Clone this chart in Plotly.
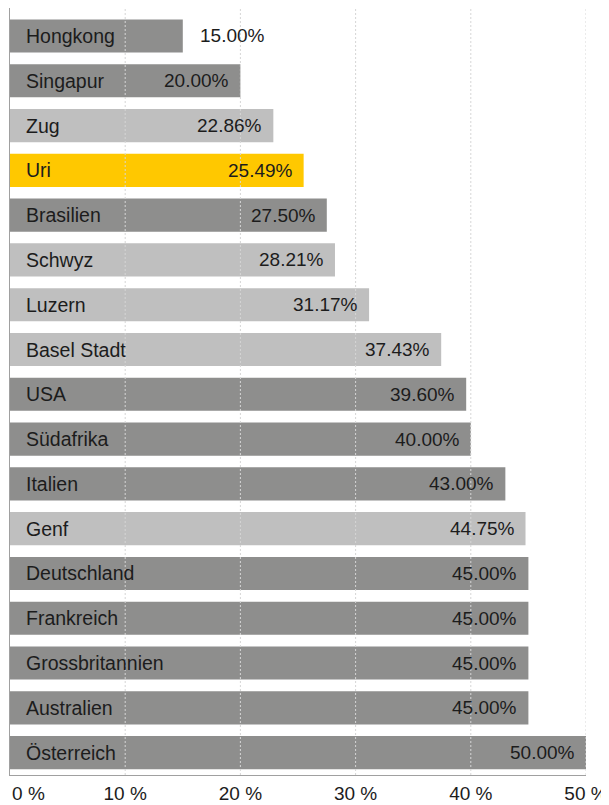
import plotly.graph_objects as go

categories = ["Hongkong", "Singapur", "Zug", "Uri", "Brasilien", "Schwyz", "Luzern",
              "Basel Stadt", "USA", "Südafrika", "Italien", "Genf", "Deutschland",
              "Frankreich", "Grossbritannien", "Australien", "Österreich"]
values = [15.00, 20.00, 22.86, 25.49, 27.50, 28.21, 31.17, 37.43, 39.60, 40.00,
          43.00, 44.75, 45.00, 45.00, 45.00, 45.00, 50.00]
groups = ["land", "land", "kanton", "uri", "land", "kanton", "kanton", "kanton", "land",
          "land", "land", "kanton", "land", "land", "land", "land", "land"]
tick_vals = [0, 10, 20, 30, 40, 50]
tick_text = ["\u00a0" * 7 + "0 %", "10 %", "20 %", "30 %", "40 %", "50 %"]

color_map = {"land": "#8e8e8d", "kanton": "#bfbfbf", "uri": "#ffc800"}
colors = [color_map[g] for g in groups]

FONT = "Liberation Sans, Arial, Helvetica, sans-serif"
TXT = "#1c1c1c"

fig = go.Figure()
fig.add_trace(go.Bar(
    x=values, y=categories, orientation="h",
    marker=dict(color=colors, line=dict(width=0)),
    width=0.74, hoverinfo="skip",
))

annotations = []
for c, v in zip(categories, values):
    outside = v < 18
    # value label
    annotations.append(dict(
        x=v, y=c, xref="x", yref="y",
        text=f"{v:.2f}%", showarrow=False,
        xanchor="left" if outside else "right",
        xshift=15 if outside else -9,
        font=dict(family=FONT, size=19, color=TXT),
    ))
    # category label inside bar
    annotations.append(dict(
        x=0, y=c, xref="x", yref="y",
        text=c, showarrow=False, xanchor="left", xshift=14,
        font=dict(family=FONT, size=19.5, color=TXT),
    ))

shapes = []
for t in tick_vals[1:]:
    shapes.append(dict(
        type="line", xref="x", yref="paper", x0=t, x1=t, y0=0, y1=1,
        line=dict(color="#d6d6d6", width=1, dash="2px,2px"), layer="above",
    ))

# page body has an 8px default margin; compensate so the plot lands where the reference has it
fig.update_layout(
    width=601, height=797,
    margin=dict(l=2, r=23, t=0, b=30, autoexpand=False),
    paper_bgcolor="white", plot_bgcolor="white",
    showlegend=False,
    font=dict(family=FONT, size=19, color=TXT),
    annotations=annotations,
    shapes=shapes,
    xaxis=dict(
        range=[0, 50], tickvals=tick_vals, ticktext=tick_text,
        showgrid=False, zeroline=False, showline=True, linecolor="#a0a0a0",
        linewidth=1, ticks="", automargin=False, ticklabeloverflow="allow",
        tickfont=dict(family=FONT, size=19, color=TXT), ticklabelstandoff=1,
    ),
    yaxis=dict(
        range=[16.5, -0.625], showgrid=False, zeroline=False, showline=True,
        linecolor="#a0a0a0", linewidth=1, ticks="", showticklabels=False,
        automargin=False,
    ),
)

fig.write_html("out.html")
